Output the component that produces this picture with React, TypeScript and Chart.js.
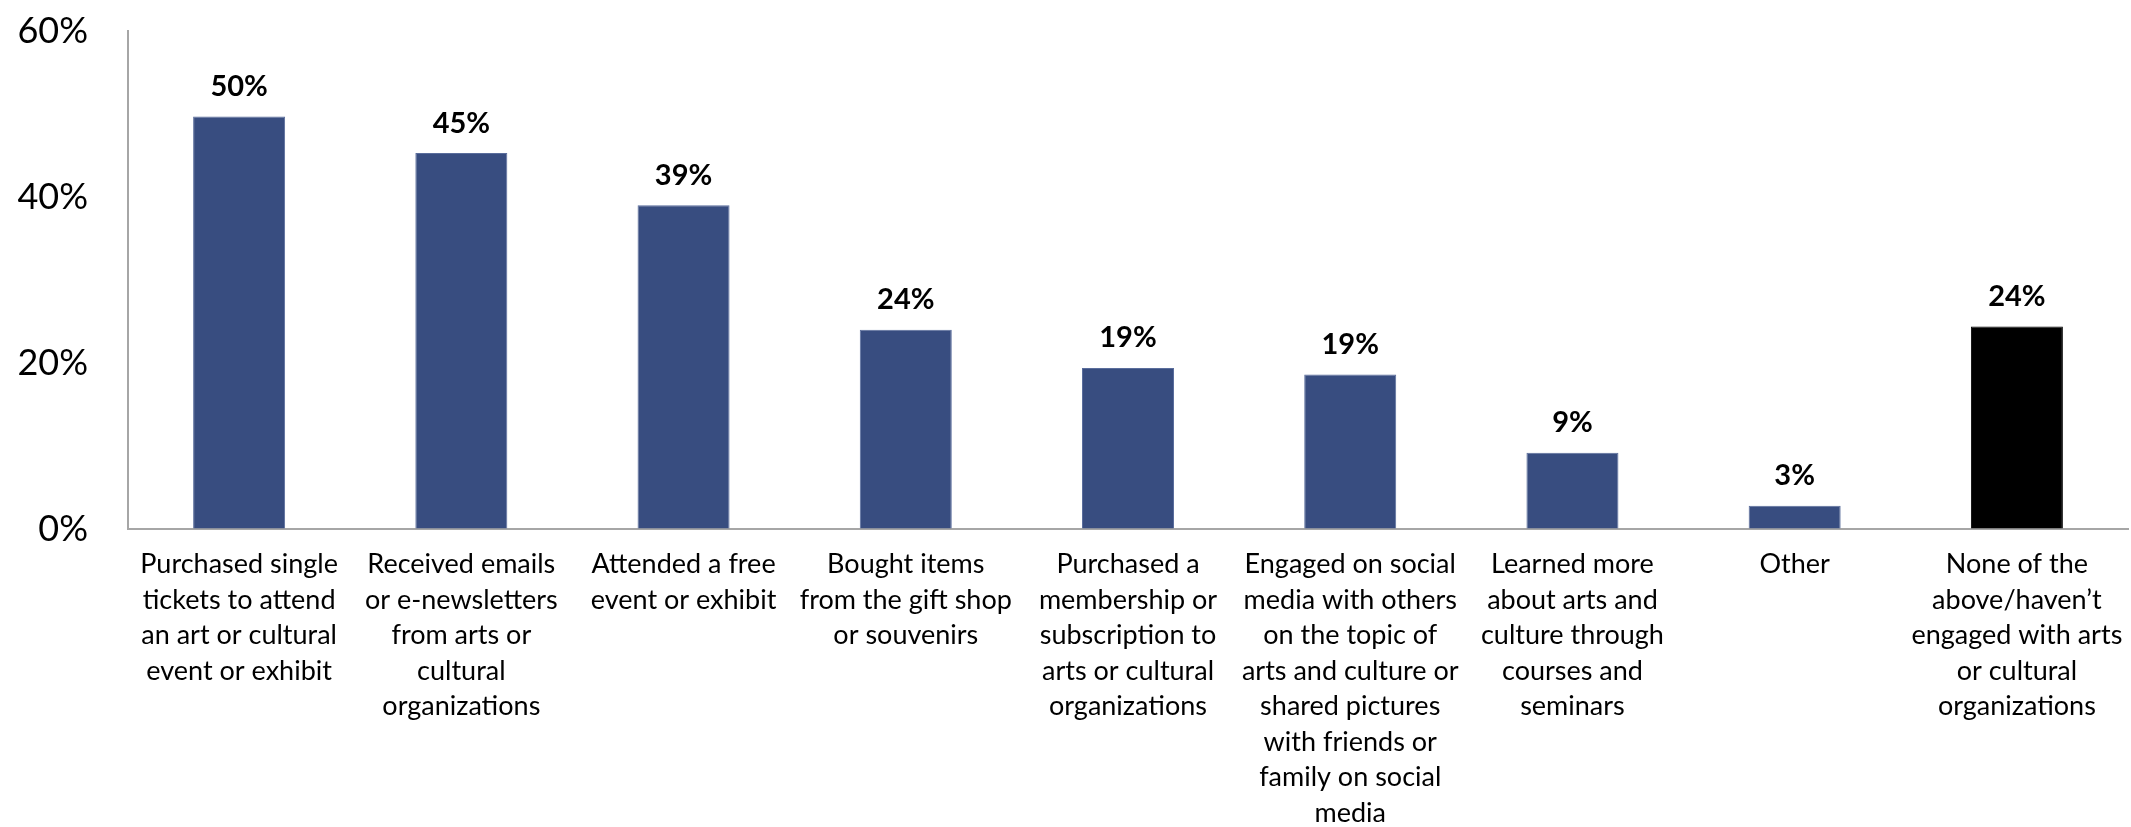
import React, { useEffect, useRef } from "react";
import { Chart, registerables } from "chart.js";

Chart.register(...registerables);

const categories: string[][] = [
  ["Purchased single", "tickets to attend", "an art or cultural", "event or exhibit"],
  ["Received emails", "or e-newsletters", "from arts or", "cultural", "organizations"],
  ["Attended a free", "event or exhibit"],
  ["Bought items", "from the gift shop", "or souvenirs"],
  ["Purchased a", "membership or", "subscription to", "arts or cultural", "organizations"],
  ["Engaged on social", "media with others", "on the topic of", "arts and culture or", "shared pictures", "with friends or", "family on social", "media"],
  ["Learned more", "about arts and", "culture through", "courses and", "seminars"],
  ["Other"],
  ["None of the", "above/haven\u2019t", "engaged with arts", "or cultural", "organizations"],
];

const values: number[] = [49.7, 45.3, 39.0, 24.0, 19.4, 18.6, 9.2, 2.8, 24.4];

const barColors: string[] = ["#384d80", "#384d80", "#384d80", "#384d80", "#384d80", "#384d80", "#384d80", "#384d80", "#000000"];
const barBorders: string[] = ["#5a6d9c", "#5a6d9c", "#5a6d9c", "#5a6d9c", "#5a6d9c", "#5a6d9c", "#5a6d9c", "#5a6d9c", "#000000"];

const yTicks: number[] = [0, 20, 40, 60];

const W = 2131;
const H = 827;
const FONT = "Lato, 'Open Sans', sans-serif";

const dataLabelPlugin = {
  id: "dataLabels",
  afterDatasetsDraw(chart: any) {
    const ctx = chart.ctx;
    const meta = chart.getDatasetMeta(0);
    ctx.save();
    ctx.font = "bold 29px " + FONT;
    ctx.fillStyle = "#000";
    ctx.textAlign = "center";
    ctx.textBaseline = "alphabetic";
    meta.data.forEach((bar: any, i: number) => {
      const v = values[i];
      ctx.fillText(Math.round(v) + "%", bar.x, bar.y - 20.5);
    });
    ctx.restore();
  },
};

export default function App() {
  const ref = useRef<HTMLCanvasElement | null>(null);

  useEffect(() => {
    document.body.style.margin = "0";
    const canvas = ref.current;
    if (!canvas) return;
    const chart = new Chart(canvas, {
      type: "bar",
      data: {
        labels: categories,
        datasets: [
          {
            data: values,
            backgroundColor: barColors,
            borderColor: barBorders,
            borderWidth: 1,
            barPercentage: 0.414,
            categoryPercentage: 1,
          },
        ],
      },
      options: {
        responsive: false,
        maintainAspectRatio: false,
        animation: false,
        devicePixelRatio: 1,
        layout: { padding: { top: 31, right: 3, bottom: 0, left: 0 } },
        plugins: {
          legend: { display: false },
          tooltip: { enabled: false },
          title: { display: false },
        },
        scales: {
          x: {
            grid: { display: true, drawOnChartArea: false, drawTicks: true, tickLength: 14, color: "rgba(0,0,0,0)" },
            border: { display: true, color: "#a6a6a6", width: 2 },
            ticks: {
              padding: 4,
              maxRotation: 0,
              autoSkip: false,
              color: "#000",
              font: { family: FONT, size: 27, lineHeight: 1.315 },
            },
            afterFit(scale: any) {
              scale.height = H - 529;
            },
          },
          y: {
            min: 0,
            max: 60,
            grid: { display: true, drawOnChartArea: false, drawTicks: true, tickLength: 36, color: "rgba(0,0,0,0)" },
            border: { display: true, color: "#a6a6a6", width: 2 },
            afterBuildTicks(scale: any) {
              scale.ticks = yTicks.map((v) => ({ value: v }));
            },
            ticks: {
              padding: 4,
              color: "#000",
              font: { family: FONT, size: 36 },
              callback: (v: any) => v + "%",
            },
            afterFit(scale: any) {
              scale.width = 128;
            },
          },
        },
      },
      plugins: [dataLabelPlugin],
    });
    return () => chart.destroy();
  }, []);

  return (
    <div style={{ width: W, height: H, background: "#fff" }}>
      <canvas ref={ref} width={W} height={H} style={{ display: "block", width: W, height: H }} />
    </div>
  );
}
